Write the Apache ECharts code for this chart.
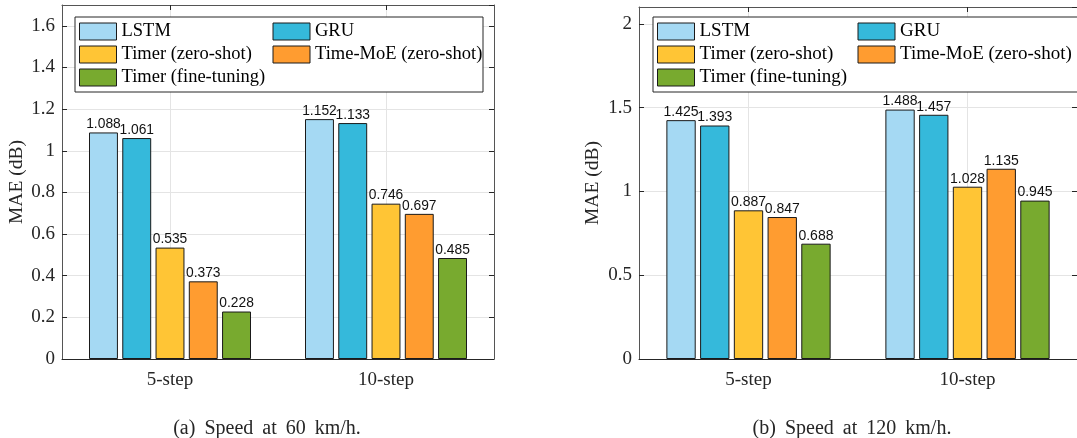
<!DOCTYPE html>
<html><head><meta charset="utf-8">
<script src="https://cdn.jsdelivr.net/npm/echarts@6/dist/echarts.min.js"></script>
<style>html,body{margin:0;padding:0;background:#fff}#c{width:1077px;height:438px}</style>
</head><body><div id="c"></div>
<script>
// ---- data ----
const categories = ['5-step', '10-step'];
const seriesNames = ['LSTM', 'GRU', 'Timer (zero-shot)', 'Time-MoE (zero-shot)', 'Timer (fine-tuning)'];
const lstm60 = [1.088, 1.152];
const gru60 = [1.061, 1.133];
const timerZero60 = [0.535, 0.746];
const timeMoe60 = [0.373, 0.697];
const timerFine60 = [0.228, 0.485];
const lstm120 = [1.425, 1.488];
const gru120 = [1.393, 1.457];
const timerZero120 = [0.887, 1.028];
const timeMoe120 = [0.847, 1.135];
const timerFine120 = [0.688, 0.945];
const captions = ['(a)\u2009 Speed\u2009 at\u2009 60\u2009 km/h.', '(b)\u2009 Speed\u2009 at\u2009 120\u2009 km/h.'];
const yLabel = 'MAE (dB)';

// ---- style ----
const colors = ['#A5D9F3', '#35B9DB', '#FFC535', '#FF9C30', '#78AA2F'];
const SERIF = '"Liberation Serif","Times New Roman",serif';
const SANS = '"Liberation Sans",Arial,sans-serif';
const axisCol = '#262626';
const gridCol = '#e4e4e4';

const panels = [
  { data: [lstm60, gru60, timerZero60, timeMoe60, timerFine60], max: 1.7, interval: 0.2,
    grid: { left: 62, top: 5, width: 432, height: 354 }, nameGap: 35,
    legend: { left: 75, top: 17, w1: 147, w2: 168, pr: 0, font: 18.5 }, labelFont: 13.8, caption: { x: 267, y: 428 } },
  { data: [lstm120, gru120, timerZero120, timeMoe120, timerFine120], max: 2.1, interval: 0.5,
    grid: { left: 639, top: 7, width: 448, height: 352 }, nameGap: 36,
    legend: { left: 653, top: 17, w1: 154, w2: 174, pr: 6, font: 19 }, labelFont: 14, caption: { x: 852, y: 428 } }
];

const centerTick = (i) => i === 1 || i === 3;
const option = { animation: false, grid: [], xAxis: [], yAxis: [], series: [], legend: [], graphic: [] };

panels.forEach((p, g) => {
  option.grid.push(Object.assign({ containLabel: false }, p.grid));
  option.xAxis.push({
    type: 'category', gridIndex: g, data: categories, position: 'bottom',
    axisLine: { show: true, onZero: false, lineStyle: { color: axisCol, width: 1 } },
    axisTick: { show: true, inside: true, alignWithLabel: true, length: 5, lineStyle: { color: axisCol } },
    axisLabel: { fontFamily: SERIF, fontSize: 19, color: axisCol, margin: 12 },
    splitLine: { show: false }
  });
  option.xAxis.push({
    type: 'category', gridIndex: g, data: ['', '', '', '', ''], boundaryGap: false, position: 'top',
    axisLine: { show: true, onZero: false, lineStyle: { color: '#555', width: 1 } },
    axisTick: { show: true, inside: true, interval: centerTick, length: 5, lineStyle: { color: axisCol } },
    axisLabel: { show: false },
    splitLine: { show: true, interval: centerTick, lineStyle: { color: gridCol, width: 1 } }
  });
  option.yAxis.push({
    type: 'value', gridIndex: g, min: 0, max: p.max, interval: p.interval, position: 'left',
    axisLine: { show: true, onZero: false, lineStyle: { color: '#555', width: 1 } },
    axisTick: { show: true, inside: true, length: 5, lineStyle: { color: axisCol } },
    axisLabel: { fontFamily: SERIF, fontSize: 19, color: axisCol, margin: 7, showMaxLabel: false },
    splitLine: { show: true, lineStyle: { color: gridCol, width: 1 } },
    name: yLabel, nameLocation: 'middle', nameGap: p.nameGap,
    nameTextStyle: { fontFamily: SERIF, fontSize: 19.5, color: axisCol }
  });
  option.yAxis.push({
    type: 'value', gridIndex: g, min: 0, max: p.max, interval: p.interval, position: 'right',
    axisLine: { show: true, onZero: false, lineStyle: { color: '#555', width: 1 } },
    axisTick: { show: true, inside: true, length: 5, lineStyle: { color: axisCol } },
    axisLabel: { show: false }, splitLine: { show: false }
  });
  seriesNames.forEach((name, s) => {
    option.series.push({
      type: 'bar', name: name, xAxisIndex: 2 * g, yAxisIndex: 2 * g,
      data: p.data[s], barGap: '15%', barCategoryGap: '25%',
      itemStyle: { color: colors[s], borderColor: '#1a1a1a', borderWidth: 1 },
      label: { show: true, position: 'top', distance: 1, fontFamily: SANS, fontSize: p.labelFont, color: '#111',
        formatter: (d) => d.value.toFixed(3) }
    });
  });
  const L = p.legend;
  option.legend.push({
    left: L.left, top: L.top, width: 2 * 42 + L.w1 + L.w2 + 4 + 1, orient: 'horizontal',
    itemWidth: 37, itemHeight: 17, itemGap: 4, icon: 'rect',
    padding: [5, L.pr, 5, 4], borderColor: axisCol, borderWidth: 1, backgroundColor: '#fff',
    itemStyle: { borderColor: '#1a1a1a', borderWidth: 1 },
    textStyle: { fontFamily: SERIF, fontSize: L.font, color: '#000', lineHeight: 18 },
    data: seriesNames.map((n, i) => ({ name: n, textStyle: { width: (i % 2 === 0) ? L.w1 : L.w2 } }))
  });
  option.graphic.push({
    type: 'text', x: p.caption.x, y: p.caption.y + 1,
    style: { text: captions[g], font: '20px ' + SERIF, fill: axisCol, align: 'center', verticalAlign: 'middle' }
  });
});

const chart = echarts.init(document.getElementById('c'), null, { renderer: 'canvas' });
chart.setOption(option);
</script>
</body></html>
